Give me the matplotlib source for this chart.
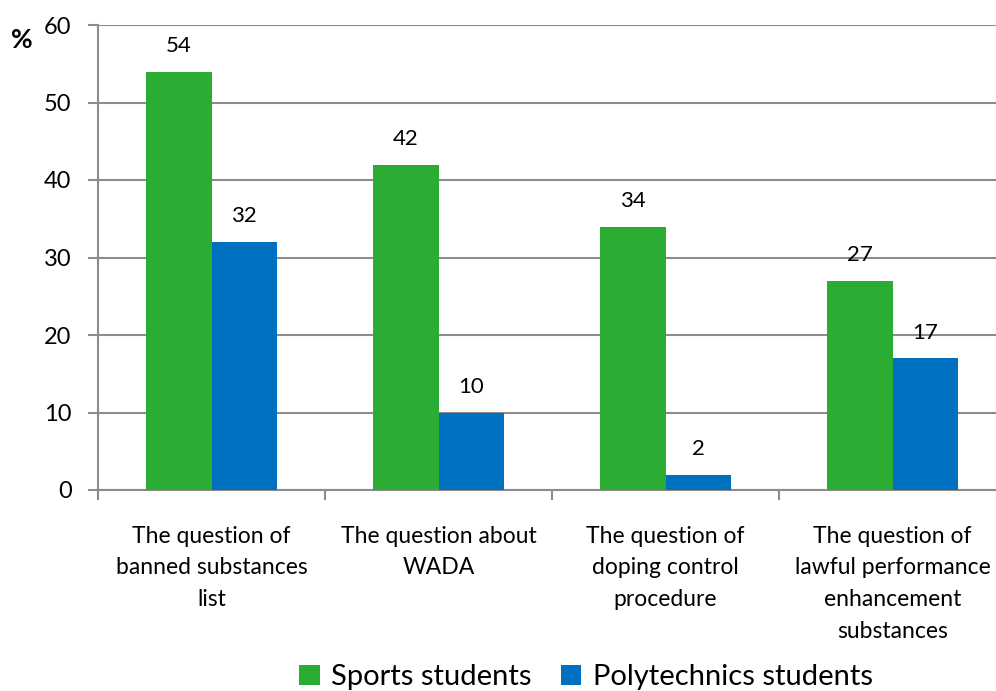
import numpy as np
import matplotlib
matplotlib.use('Agg')
import matplotlib.pyplot as plt

plt.rcParams['font.family'] = ['Lato', 'DejaVu Sans']

categories = ['The question of\nbanned substances\nlist',
              'The question about\nWADA',
              'The question of\ndoping control\nprocedure',
              'The question of\nlawful performance\nenhancement\nsubstances']
sports = [54, 42, 34, 27]
poly = [32, 10, 2, 17]
seriesNames = ['Sports students', 'Polytechnics students']

green = '#2AAD32'
blue = '#0070C0'
gray = '#8C8C8C'

fig = plt.figure(figsize=(9.96, 6.91), dpi=100)
ax = fig.add_axes([98/996, 201/691, 908/996, 465/691])

x = np.arange(len(categories))
w = 0.287
b1 = ax.bar(x - w/2, sports, w, color=green, label=seriesNames[0], zorder=3)
b2 = ax.bar(x + w/2, poly, w, color=blue, label=seriesNames[1], zorder=3)

for bars in (b1, b2):
    for r in bars:
        ax.text(r.get_x() + r.get_width()/2, r.get_height() + 2.0, '%d' % r.get_height(),
                ha='center', va='bottom', fontsize=16)

ax.set_xlim(-0.5, len(categories) - 0.5)
ax.set_ylim(0, 60)
ax.set_yticks(range(0, 61, 10))
ax.yaxis.grid(True, color=gray, linewidth=1.5, zorder=0)
ax.tick_params(axis='y', length=7, width=1.5, color=gray, labelsize=17, pad=12)

# category boundaries get the tick marks, labels are placed as text
ax.set_xticks(np.arange(len(categories) + 1) - 0.5)
ax.set_xticklabels([])
ax.tick_params(axis='x', length=7, width=1.5, color=gray)
for i, c in enumerate(categories):
    ax.text(i, -4.6, c, ha='center', va='top', fontsize=16.5, linespacing=1.63)

for s in ['top', 'right']:
    ax.spines[s].set_visible(False)
for s in ['left', 'bottom']:
    ax.spines[s].set_color(gray)
    ax.spines[s].set_linewidth(1.5)

fig.text(22/996, 1 - 40/691, '%', fontsize=19, fontweight='bold', ha='center', va='center')

fig.legend(handles=[b1, b2], loc='center', bbox_to_anchor=(586/996, 1 - 677/691),
           ncol=2, frameon=False, fontsize=21, handlelength=0.7, handleheight=0.7,
           handletextpad=0.4, columnspacing=1.0, borderpad=0)

fig.savefig('out.png', dpi=100)
